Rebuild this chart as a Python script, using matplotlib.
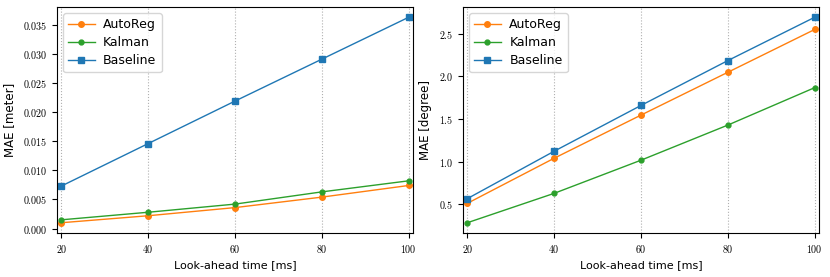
import matplotlib
matplotlib.use("Agg")
import matplotlib.pyplot as plt
from matplotlib.ticker import FuncFormatter

# look-ahead times and MAE values per method
lookahead_ms = [20, 40, 60, 80, 100]

pos_autoreg = [0.0010, 0.0022, 0.0036, 0.0054, 0.0074]
pos_kalman = [0.0015, 0.0028, 0.0042, 0.0063, 0.0082]
pos_baseline = [0.0073, 0.0146, 0.0219, 0.0291, 0.0363]

rot_autoreg = [0.512, 1.040, 1.545, 2.046, 2.547]
rot_kalman = [0.285, 0.629, 1.017, 1.428, 1.866]
rot_baseline = [0.567, 1.122, 1.658, 2.183, 2.690]

plt.rcParams['font.size'] = 8
plt.rcParams['mathtext.fontset'] = 'cm'

fig = plt.figure(figsize=(8.3, 2.77), dpi=100)
ax1 = fig.add_axes([57 / 830, 44 / 277, 356 / 830, 226 / 277])
ax2 = fig.add_axes([463 / 830, 44 / 277, 356 / 830, 226 / 277])


def draw(ax, autoreg, kalman, baseline, ylabel, fmt):
    ax.plot(lookahead_ms, autoreg, color='#ff7f0e', marker='o', markersize=4, lw=1, label='AutoReg')
    ax.plot(lookahead_ms, kalman, color='#2ca02c', marker='o', markersize=3.5, lw=1, label='Kalman')
    ax.plot(lookahead_ms, baseline, color='#1f77b4', marker='s', markersize=4, lw=1, label='Baseline')
    ax.set_xlim(19, 101)
    ax.set_xticks(lookahead_ms)
    ax.xaxis.grid(True, linestyle=':', color='#b0b0b0', lw=0.8)
    ax.set_xlabel('Look-ahead time [ms]', fontsize=8)
    ax.set_ylabel(ylabel, fontsize=8.5, labelpad=5)
    ax.xaxis.set_major_formatter(FuncFormatter(lambda v, p: '$%d$' % v))
    ax.yaxis.set_major_formatter(FuncFormatter(lambda v, p: '$' + fmt % v + '$'))
    ax.tick_params(labelsize=7.2)
    ax.legend(loc='upper left', fontsize=9, labelspacing=0.4, handlelength=2.1,
              handletextpad=0.7, borderpad=0.4, borderaxespad=0.5)


draw(ax1, pos_autoreg, pos_kalman, pos_baseline, 'MAE [meter]', '%.3f')
ax1.set_yticks([0, 0.005, 0.01, 0.015, 0.02, 0.025, 0.03, 0.035])
draw(ax2, rot_autoreg, rot_kalman, rot_baseline, 'MAE [degree]', '%.1f')
ax2.set_yticks([0.5, 1.0, 1.5, 2.0, 2.5])

fig.savefig('out.png', dpi=100)
